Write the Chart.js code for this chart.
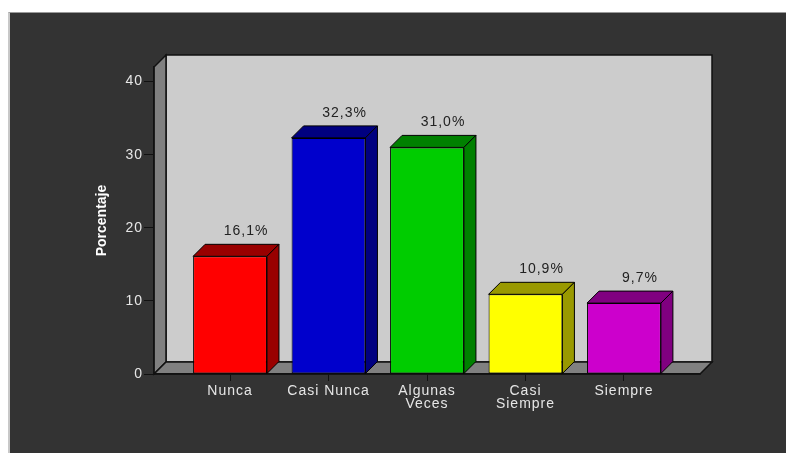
<!DOCTYPE html>
<html>
<head>
<meta charset="utf-8">
<script src="https://cdn.jsdelivr.net/npm/chart.js@4/dist/chart.umd.min.js"></script>
<style>
  html, body { margin: 0; padding: 0; background: #fff; }
  #marco { position: absolute; left: 8px; top: 12px; right: 0; bottom: 0; background: #333; border-top: 1px solid #9a9a9a; border-left: 2px solid #c8c8c8; }
  #grafico { position: absolute; left: 0; top: 0; }
</style>
</head>
<body>
<div id="marco"></div>
<canvas id="grafico" width="786" height="453"></canvas>
<script>
// categorías (x) y porcentajes (y)
const categorias = ['Nunca', 'Casi Nunca', ['Algunas', 'Veces'], ['Casi', 'Siempre'], 'Siempre'];
const porcentajes = [16.1, 32.3, 31.0, 10.9, 9.7];
const ticksY = [0, 10, 20, 30, 40];

// colores de la cara frontal y de tapa/lado
const coloresFrente = ['#ff0000', '#0000cc', '#00cc00', '#ffff00', '#cc00cc'];
const coloresLado = ['#990000', '#000080', '#008000', '#999900', '#800080'];

const PROF = 12;              // profundidad del efecto 3D (px)
const FUENTE = "'Liberation Sans', Arial, sans-serif";

// dibuja un polígono relleno con borde
function poligono(ctx, pts, relleno, borde, grosor) {
    ctx.beginPath();
    ctx.moveTo(pts[0][0], pts[0][1]);
    for (let i = 1; i < pts.length; i++) ctx.lineTo(pts[i][0], pts[i][1]);
    ctx.closePath();
    ctx.fillStyle = relleno;
    ctx.fill();
    ctx.lineWidth = grosor;
    ctx.strokeStyle = borde;
    ctx.stroke();
}

// paredes y piso 3D detrás de las barras
const paredes = {
    id: 'paredes',
    beforeDraw(chart) {
        const ctx = chart.ctx;
        const {left, right, top, bottom} = chart.chartArea;
        ctx.save();
        ctx.letterSpacing = '0px';
        poligono(ctx, [[left + PROF, top - PROF], [right + PROF, top - PROF], [right + PROF, bottom - PROF], [left + PROF, bottom - PROF]], '#cccccc', '#111', 1.5);
        poligono(ctx, [[left, bottom], [left, top], [left + PROF, top - PROF], [left + PROF, bottom - PROF]], '#808080', '#111', 1.5);
        poligono(ctx, [[left, bottom], [left + PROF, bottom - PROF], [right + PROF, bottom - PROF], [right, bottom]], '#808080', '#111', 1.5);
        ctx.restore();
        ctx.letterSpacing = '0px';
    },
    beforeDatasetsDraw(chart) {
        chart.ctx.letterSpacing = '1px';   // textos de ejes y etiquetas
    }
};

// tapa y lado de cada barra + etiqueta de porcentaje
const barras3d = {
    id: 'barras3d',
    afterDatasetsDraw(chart) {
        const ctx = chart.ctx;
        const meta = chart.getDatasetMeta(0);
        ctx.save();
        meta.data.forEach((bar, i) => {
            const {x, y, base, width} = bar.getProps(['x', 'y', 'base', 'width'], true);
            const l = x - width / 2, r = x + width / 2;
            poligono(ctx, [[l, y], [l + PROF, y - PROF], [r + PROF, y - PROF], [r, y]], coloresLado[i], '#000', 1);
            poligono(ctx, [[r, y], [r + PROF, y - PROF], [r + PROF, base - PROF], [r, base]], coloresLado[i], '#000', 1);

            ctx.fillStyle = '#222';
            ctx.font = '14px ' + FUENTE;
            ctx.textAlign = 'center';
            ctx.textBaseline = 'middle';
            ctx.fillText(porcentajes[i].toFixed(1).replace('.', ',') + '%', x + 16, y - PROF - 13);
        });
        ctx.restore();
    }
};

Chart.defaults.font.family = FUENTE;

const grafico = new Chart(document.getElementById('grafico'), {
    type: 'bar',
    data: {
        datasets: [{
            data: porcentajes.map((v, i) => ({x: i, y: v})),
            backgroundColor: coloresFrente,
            borderColor: '#000',
            borderWidth: 1,
            borderSkipped: false,
            barPercentage: 0.75,
            categoryPercentage: 1
        }]
    },
    options: {
        responsive: false,
        animation: false,
        layout: {padding: {left: 80, top: 67, right: 86, bottom: 14}},
        plugins: {legend: {display: false}, tooltip: {enabled: false}},
        scales: {
            x: {
                type: 'linear',
                offset: false,
                min: -0.772,
                max: 4.772,
                afterBuildTicks: (s) => { s.ticks = categorias.map((c, i) => ({value: i})); },
                afterFit: (s) => { s.height = 65; },
                grid: {offset: false, drawOnChartArea: false, tickLength: 7, color: '#111'},
                border: {color: '#111', width: 1.5},
                ticks: {
                    z: 1, color: '#e6e6e6', padding: 4, maxRotation: 0, autoSkip: false,
                    font: {size: 14, lineHeight: '13px'},
                    callback: (v) => categorias[v]
                }
            },
            y: {
                min: 0,
                max: 42,
                afterBuildTicks: (s) => { s.ticks = ticksY.map(v => ({value: v})); },
                afterFit: (s) => { s.width = 74; },
                grid: {drawOnChartArea: false, tickLength: 10, color: '#111'},
                border: {color: '#111', width: 1.5},
                ticks: {z: 1, color: '#e6e6e6', padding: 1, font: {size: 14}},
                title: {
                    display: true,
                    text: 'Porcentaje',
                    color: '#fff',
                    font: {family: "'Liberation Sans Narrow', 'Liberation Sans', sans-serif", size: 14, weight: 'bold'},
                    padding: {top: 14, bottom: 0}
                }
            }
        }
    },
    plugins: [paredes, barras3d]
});
</script>
</body>
</html>
